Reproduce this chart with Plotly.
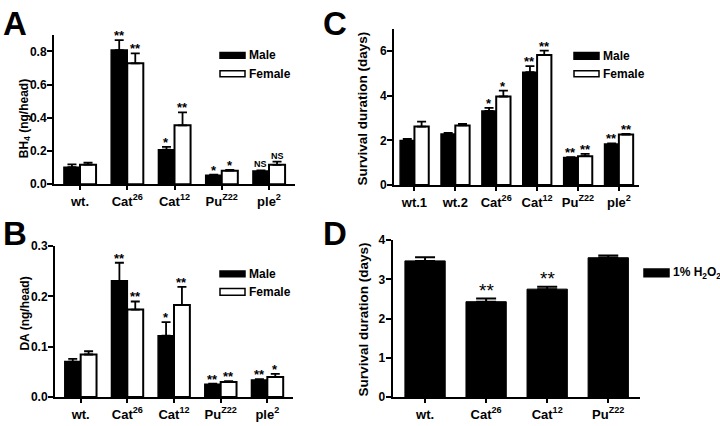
import plotly.graph_objects as go

FONT = "Liberation Sans"

# ---------------- Data ----------------
# Panel A: BH4 (ng/head)
a_cats = ["wt.", "Cat<sup>26</sup>", "Cat<sup>12</sup>", "Pu<sup>Z22</sup>", "ple<sup>2</sup>"]
a_male = [0.103, 0.808, 0.208, 0.054, 0.080]
a_male_err = [0.017, 0.060, 0.017, 0.004, 0.004]
a_female = [0.118, 0.728, 0.355, 0.082, 0.117]
a_female_err = [0.012, 0.060, 0.078, 0.004, 0.019]
a_male_sig = ["", "**", "*", "*", "NS"]
a_female_sig = ["", "**", "**", "*", "NS"]

# Panel B: DA (ng/head)
b_cats = ["wt.", "Cat<sup>26</sup>", "Cat<sup>12</sup>", "Pu<sup>Z22</sup>", "ple<sup>2</sup>"]
b_male = [0.0705, 0.231, 0.122, 0.0256, 0.034]
b_male_err = [0.0055, 0.036, 0.027, 0.001, 0.0015]
b_female = [0.0846, 0.174, 0.183, 0.030, 0.040]
b_female_err = [0.0065, 0.016, 0.036, 0.0015, 0.006]
b_male_sig = ["", "**", "*", "**", "**"]
b_female_sig = ["", "**", "**", "**", "*"]

# Panel C: Survival duration (days)
c_cats = ["wt.1", "wt.2", "Cat<sup>26</sup>", "Cat<sup>12</sup>", "Pu<sup>Z22</sup>", "ple<sup>2</sup>"]
c_male = [1.99, 2.29, 3.32, 5.06, 1.23, 1.84]
c_male_err = [0.08, 0.04, 0.14, 0.27, 0.02, 0.03]
c_female = [2.62, 2.67, 3.97, 5.83, 1.29, 2.26]
c_female_err = [0.22, 0.07, 0.26, 0.20, 0.10, 0.03]
c_male_sig = ["", "", "*", "**", "**", "**"]
c_female_sig = ["", "", "*", "**", "**", "**"]

# Panel D: Survival duration (days), 1% H2O2
d_cats = ["wt.", "Cat<sup>26</sup>", "Cat<sup>12</sup>", "Pu<sup>Z22</sup>"]
d_vals = [3.47, 2.43, 2.75, 3.55]
d_err = [0.09, 0.08, 0.06, 0.06]
d_sig = ["", "**", "**", ""]

W, H = 720, 426


def px_x(p):
    return p / W


def px_y(p):
    return 1 - p / H


fig = go.Figure()
annotations = []
shapes = []


def add_pair(xa, ya, cats, male, male_err, female, female_err, msig, fsig, w, capw):
    idx = list(range(len(cats)))
    fig.add_trace(go.Bar(
        x=idx, y=male, width=w, offset=-w, xaxis=xa, yaxis=ya,
        marker=dict(color="black", line=dict(color="black", width=1.5)),
        error_y=dict(type="data", symmetric=False, array=male_err,
                     arrayminus=[0] * len(male), color="black", thickness=1.8, width=capw),
        showlegend=False, hoverinfo="skip"))
    fig.add_trace(go.Bar(
        x=idx, y=female, width=w, offset=0, xaxis=xa, yaxis=ya,
        marker=dict(color="white", line=dict(color="black", width=2)),
        error_y=dict(type="data", symmetric=False, array=female_err,
                     arrayminus=[0] * len(female), color="black", thickness=1.8, width=capw),
        showlegend=False, hoverinfo="skip"))
    for i in idx:
        for sig, vals, errs, sx in ((msig, male, male_err, -w / 2), (fsig, female, female_err, w / 2)):
            if sig[i]:
                small = sig[i] == "NS"
                annotations.append(dict(
                    x=i + sx, y=vals[i] + errs[i], xref=xa, yref=ya,
                    text=sig[i], showarrow=False, xanchor="center", yanchor="bottom",
                    yshift=-5 if not small else -1,
                    font=dict(family=FONT, size=13 if not small else 9, color="black", weight="bold")))


add_pair("x", "y", a_cats, a_male, a_male_err, a_female, a_female_err, a_male_sig, a_female_sig, 0.34, 4.5)
add_pair("x2", "y2", b_cats, b_male, b_male_err, b_female, b_female_err, b_male_sig, b_female_sig, 0.34, 4.5)
add_pair("x3", "y3", c_cats, c_male, c_male_err, c_female, c_female_err, c_male_sig, c_female_sig, 0.35, 4.5)

d_idx = list(range(len(d_cats)))
fig.add_trace(go.Bar(
    x=d_idx, y=d_vals, width=0.66, xaxis="x4", yaxis="y4",
    marker=dict(color="black", line=dict(color="black", width=1)),
    error_y=dict(type="data", symmetric=False, array=d_err, arrayminus=[0] * len(d_vals),
                 color="black", thickness=2, width=10),
    showlegend=False, hoverinfo="skip"))
for i in d_idx:
    if d_sig[i]:
        annotations.append(dict(
            x=i, y=d_vals[i] + d_err[i], xref="x4", yref="y4", text=d_sig[i],
            showarrow=False, xanchor="center", yanchor="bottom", yshift=-4,
            font=dict(family=FONT, size=19, color="black")))

tickfont_y = dict(family=FONT, size=12, color="black", weight="bold")
tickfont_x = dict(family=FONT, size=13, color="black", weight="bold")


def xaxis(domain, cats, rng, anchor):
    return dict(domain=domain, anchor=anchor, range=rng, tickvals=list(range(len(cats))),
                ticktext=cats, showline=True, linewidth=2, linecolor="black",
                ticks="outside", ticklen=4, tickwidth=2, tickcolor="black",
                showgrid=False, zeroline=False, tickfont=tickfont_x, fixedrange=True)


def yaxis(domain, rng, tickvals, fmt, anchor):
    return dict(domain=domain, anchor=anchor, range=rng, tickvals=tickvals, tickformat=fmt,
                showline=True, linewidth=2, linecolor="black",
                ticks="outside", ticklen=5, tickwidth=2, tickcolor="black",
                ticklabelstandoff=-2,
                showgrid=False, zeroline=False, tickfont=tickfont_y, fixedrange=True)


fig.update_layout(
    width=W, height=H, margin=dict(l=0, r=0, t=0, b=0),
    paper_bgcolor="white", plot_bgcolor="white", barmode="overlay", showlegend=False,
    xaxis=xaxis([px_x(54), px_x(295)], a_cats, [-0.55, 4.55], "y"),
    yaxis=yaxis([px_y(183.3), px_y(28.7)], [0, 0.9], [0, 0.2, 0.4, 0.6, 0.8], ".1f", "x"),
    xaxis2=xaxis([px_x(55), px_x(293)], b_cats, [-0.55, 4.55], "y2"),
    yaxis2=yaxis([px_y(403.3), px_y(247.3)], [0, 0.3], [0, 0.1, 0.2, 0.3], ".1f", "x2"),
    xaxis3=xaxis([px_x(394), px_x(639.3)], c_cats, [-0.5, 5.5], "y3"),
    yaxis3=yaxis([px_y(184), px_y(22.7)], [0, 7], [0, 2, 4, 6], "d", "x3"),
    xaxis4=xaxis([px_x(392.7), px_x(640)], d_cats, [-0.53, 3.52], "y4"),
    yaxis4=yaxis([px_y(403.3), px_y(241)], [0, 4], [0, 1, 2, 3, 4], "d", "x4"),
)

# Panel letters
for letter, x, y in (("A", 1, -4), ("B", 1, 213), ("C", 321, -4), ("D", 321, 213)):
    annotations.append(dict(x=px_x(x), y=px_y(y), xref="paper", yref="paper", text=letter,
                            showarrow=False, xanchor="left", yanchor="top",
                            font=dict(family=FONT, size=33, color="black", weight="bold")))

# Y-axis titles
for txt, x, y, size in (("BH<sub>4</sub> (ng/head)", 25, 116, 12), ("DA (ng/head)", 25, 317, 12),
                        ("Survival duration (days)", 363, 105, 13.5),
                        ("Survival duration (days)", 363, 323, 13.5)):
    annotations.append(dict(x=px_x(x), y=px_y(y), xref="paper", yref="paper", text=txt,
                            showarrow=False, textangle=-90, xanchor="center", yanchor="middle",
                            font=dict(family=FONT, size=size, color="black", weight="bold")))

# Legends (drawn as boxes + labels)
legend_entries = [
    (220, 47, 53, "black", "Male"), (220, 66, 72, "white", "Female"),
    (220, 273, 279, "black", "Male"), (220, 291, 298, "white", "Female"),
    (574, 47, 54, "black", "Male"), (574, 66, 72, "white", "Female"),
    (644, 271, 279, "black", "1% H<sub>2</sub>O<sub>2</sub>"),
]
for x0, y0, y1, col, label in legend_entries:
    shapes.append(dict(type="rect", xref="paper", yref="paper",
                       x0=px_x(x0), x1=px_x(x0 + 25), y0=px_y(y1), y1=px_y(y0),
                       fillcolor=col, line=dict(color="black", width=1.5)))
    annotations.append(dict(x=px_x(x0 + 27), y=px_y((y0 + y1) / 2), xref="paper", yref="paper",
                            text=label, showarrow=False, xanchor="left", yanchor="middle",
                            font=dict(family=FONT, size=12, color="black", weight="bold")))

fig.update_layout(annotations=annotations, shapes=shapes)
fig.write_html("out.html", config={"displayModeBar": False},
               post_script="document.body.style.margin='0px';")
